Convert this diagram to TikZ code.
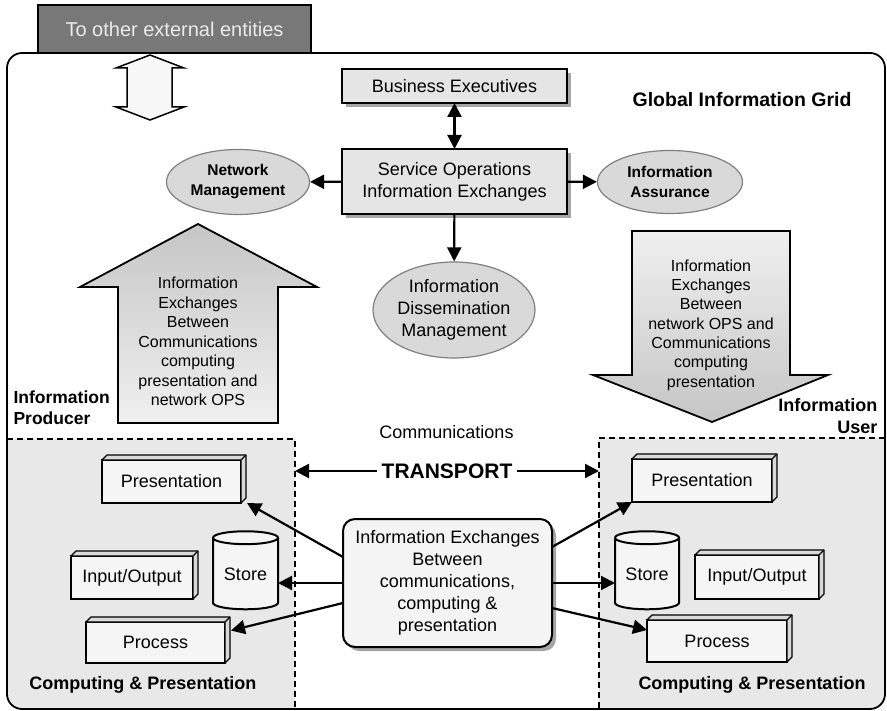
\documentclass[tikz,border=0pt]{standalone}
\usepackage{fontspec}
\setmainfont{Liberation Sans}
\usetikzlibrary{shapes.geometric,arrows.meta,positioning,calc,shadows}

\tikzset{
  >={Triangle[length=14pt,width=14pt]},
  txt/.style={font=\fontsize{18}{22}\selectfont},
  hd/.style={font=\fontsize{18}{21}\selectfont\bfseries},
  lifted/.style={drop shadow={shadow xshift=4pt,shadow yshift=-4pt,fill=gray!70,opacity=1}},
  opsbox/.style={draw, line width=2pt, fill=gray!20, inner sep=0pt, outer sep=0pt, align=center, lifted},
  oval/.style={ellipse, draw=gray, line width=1.2pt, fill=gray!30, inner sep=0pt, align=center},
  part/.style={draw, line width=2pt, fill=gray!8, inner sep=0pt, outer sep=0pt},
  drum/.style={cylinder, shape border rotate=90, aspect=0.3, draw, line width=2pt,
    cylinder uses custom fill, cylinder body fill=gray!8, cylinder end fill=gray!8, inner sep=0pt, outer sep=0pt},
  link/.style={line width=2.2pt},
  zone/.style={dash pattern=on 6pt off 4pt, line width=1.6pt},
}

% top and right faces of a part
\newcommand\sidefaces[1]{%
  \filldraw[fill=gray!30, line width=1.3pt, line join=round] (#1.north west) -- ++(5pt,5pt)
    -- ($(#1.north east)+(5pt,5pt)$) -- ($(#1.south east)+(5pt,5pt)$) -- (#1.south east) -- (#1.north east) -- cycle;
  \draw[line width=1.3pt] (#1.north east) -- ++(5pt,5pt);
}

\begin{document}
\begin{tikzpicture}[x=1pt, y=-1pt, every node/.style={txt}]
  \useasboundingbox (0,0) rectangle (887,711);

  % Producer / user zones
  \begin{scope}
    \clip[rounded corners=15pt] (7,53) rectangle (885,709);
    \fill[gray!18] (7,439) rectangle (295,709);
    \fill[gray!18] (599,438) rectangle (885,709);
  \end{scope}
  \draw[zone] (7,439) -- (295,439) -- (295,709);
  \draw[zone] (885,438) -- (599,438) -- (599,709);

  % Grid frame and outside link
  \draw[line width=1.8pt, rounded corners=15pt] (7,53) rectangle (885,709);
  \node[draw, line width=1.2pt, fill=black!53, text=white!92!black, minimum width=273pt, minimum height=48pt,
        font=\fontsize{20}{24}\selectfont] (ext) at (174.5,29) {To other external entities};
  \filldraw[fill=gray!6, line width=1.5pt] (150,55) -- (184,68) -- (172,68) -- (172,107) -- (184,107)
    -- (150,120) -- (116,107) -- (127,107) -- (127,68) -- (116,68) -- cycle;

  % Service operations
  \node[opsbox, minimum width=225pt, minimum height=34pt] (be) at (454.5,86) {Business Executives};
  \node[opsbox, minimum width=225pt, minimum height=65pt] (so) at (454.5,181.5) {Service Operations\\Information Exchanges};
  \node[oval, minimum width=143pt, minimum height=65pt, font=\fontsize{15.5}{20}\selectfont\bfseries] (nm) at (238,182) {Network\\Management};
  \node[oval, minimum width=145pt, minimum height=63pt, font=\fontsize{15.5}{20}\selectfont\bfseries] (ia) at (670,182) {Information\\Assurance};
  \node[oval, minimum width=162pt, minimum height=96pt] (idm) at (454,310) {Information\\Dissemination\\Management};
  \node[font=\fontsize{19.5}{24}\selectfont\bfseries] (gig) at (742,100) {Global Information Grid};

  \draw[link,<->] (be) -- (so);
  \draw[link,->] (so) -- (nm);
  \draw[link,->] (so) -- (ia);
  \draw[link,->] (so) -- (idm);

  % Exchange arrows
  \draw[line width=1.8pt, top color=gray!45, bottom color=gray!12] (118,423) -- (118,287) -- (80,287) -- (198,224)
    -- (317,287) -- (278,287) -- (278,423) -- cycle;
  \node[align=center, font=\fontsize{16}{19.5}\selectfont] (upmsg) at (198,341.5)
    {Information\\Exchanges\\Between\\Communications\\computing\\presentation and\\network OPS};
  \draw[line width=1.8pt, top color=gray!12, bottom color=gray!45] (632,231) -- (790,231) -- (790,375) -- (828,375)
    -- (712,422) -- (593,375) -- (632,375) -- cycle;
  \node[align=center, font=\fontsize{16}{19.3}\selectfont] (downmsg) at (711,325)
    {Information\\Exchanges\\Between\\network OPS and\\Communications\\computing\\presentation};

  \node[align=left, anchor=west, font=\fontsize{17.5}{21}\selectfont\bfseries] (prod) at (10,407.5) {Information\\Producer};
  \node[align=right, anchor=east, font=\fontsize{18}{22}\selectfont\bfseries] (user) at (881,416) {Information\\User};

  % Transport
  \node (comm) at (446.5,432) {Communications};
  \node[font=\fontsize{21}{24}\selectfont\bfseries, inner sep=4pt] (tp) at (447,471) {TRANSPORT};
  \coordinate (tpl) at (295,471);
  \coordinate (tpr) at (599,471);
  \draw[link,->] (tp) -- (tpl);
  \draw[link,->] (tp) -- (tpr);
  \node[part, rounded corners=12pt, fill=gray!9, lifted, minimum width=209pt, minimum height=128pt, align=center] (ie) at (447.5,583)
    {Information Exchanges\\Between\\communications,\\computing \&\\presentation};

  % Producer side
  \node[part, minimum width=139pt, minimum height=43pt] (presl) at (171.5,481.5) {Presentation};
  \sidefaces{presl}
  \node[part, minimum width=122pt, minimum height=43pt] (iol) at (132,577.5) {Input/Output};
  \sidefaces{iol}
  \node[drum, minimum width=65pt, minimum height=78pt] (storel) at (245.5,574) {Store};
  \node[part, minimum width=139pt, minimum height=41pt] (procl) at (155.5,642.5) {Process};
  \sidefaces{procl}
  \node[hd] (cpl) at (143,685) {Computing \& Presentation};

  % User side
  \node[part, minimum width=140pt, minimum height=43pt] (presr) at (702,480.5) {Presentation};
  \sidefaces{presr}
  \node[drum, minimum width=64pt, minimum height=78pt] (storer) at (647,574) {Store};
  \node[part, minimum width=124pt, minimum height=44pt] (ior) at (757,577) {Input/Output};
  \sidefaces{ior}
  \node[part, minimum width=140pt, minimum height=42pt] (procr) at (717,641) {Process};
  \sidefaces{procr}
  \node[hd] (cpr) at (752,685) {Computing \& Presentation};

  \draw[link,->] ([yshift=26pt]ie.west) -- ([xshift=6pt]presl.south east);
  \draw[link,->] (ie.west) -- (ie.west -| storel.east);
  \draw[link,->] ([yshift=-20pt]ie.west) -- ([xshift=6pt,yshift=12pt]procl.east);
  \draw[link,->] ([yshift=36pt]ie.east) -- (presr.south west);
  \draw[link,->] (ie.east) -- (ie.east -| storer.west);
  \draw[link,->] ([yshift=-25pt]ie.east) -- ([yshift=11pt]procr.west);
\end{tikzpicture}
\end{document}
